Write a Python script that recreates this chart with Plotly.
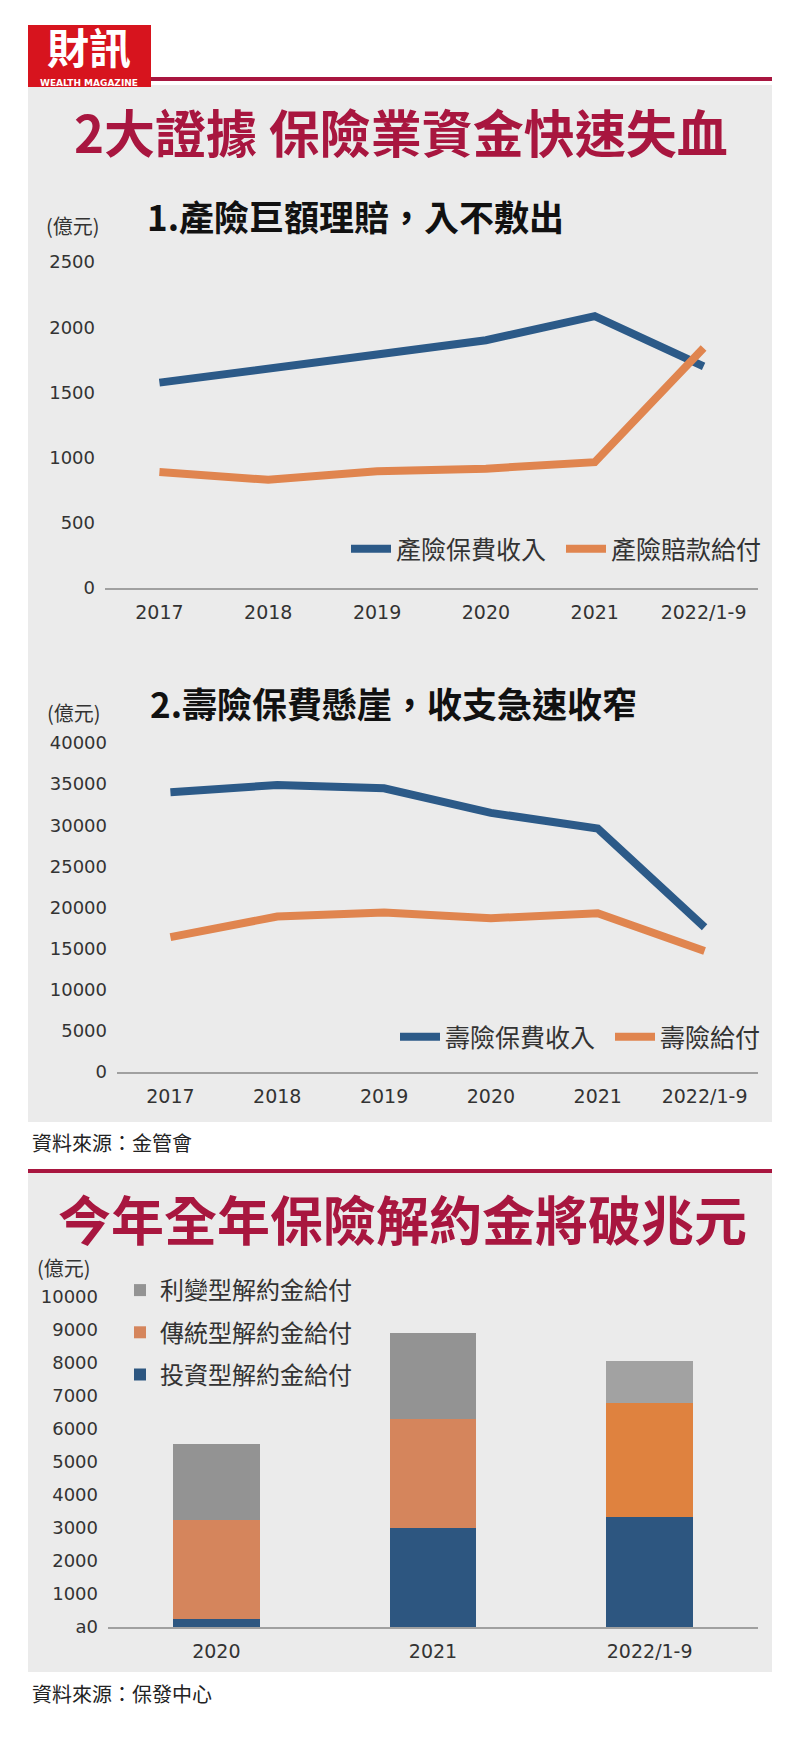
import plotly.graph_objects as go

W, H = 800, 1748
OFF = 8  # page body margin of the browser
CJK = "Noto Sans CJK TC"
NUM = "DejaVu Sans"

# ---------------- data ----------------
years6 = ["2017", "2018", "2019", "2020", "2021", "2022/1-9"]

pc_names = ["產險保費收入", "產險賠款給付"]
pc_premium = [1575, 1675, 1790, 1900, 2085, 1700]
pc_claims = [890, 830, 895, 915, 965, 1840]
pc_yticks = [0, 500, 1000, 1500, 2000, 2500]

life_names = ["壽險保費收入", "壽險給付"]
life_premium = [34000, 34900, 34500, 31500, 29600, 17600]
life_benefit = [16400, 18900, 19400, 18700, 19300, 14700]
life_yticks = [0, 5000, 10000, 15000, 20000, 25000, 30000, 35000, 40000]

years3 = ["2020", "2021", "2022/1-9"]
surr_names = ["投資型解約金給付", "傳統型解約金給付", "利變型解約金給付"]
surr_invest = [250, 3000, 3340]
surr_trad = [3000, 3300, 3440]
surr_ia = [2300, 2620, 1290]
surr_ytickvals = [0, 1000, 2000, 3000, 4000, 5000, 6000, 7000, 8000, 9000, 10000]
surr_yticktext = ["a0", "1000", "2000", "3000", "4000", "5000", "6000", "7000", "8000", "9000", "10000"]

titles = ["2大證據 保險業資金快速失血", "今年全年保險解約金將破兆元"]
subtitles = ["1.產險巨額理賠，入不敷出", "2.壽險保費懸崖，收支急速收窄"]
unit = "(億元)"
sources = ["資料來源：金管會", "資料來源：保發中心"]

# ---------------- style ----------------
BLUE = "#2c5a88"
ORANGE = "#e0854f"
BAR_BLUE = ["#2d5680", "#2d5680", "#2d5680"]
BAR_ORANGE = ["#d5855c", "#d5855c", "#df823f"]
BAR_GRAY = ["#939393", "#939393", "#a2a2a2"]
PANEL = "#ebebeb"
MAROON = "#a8163f"
AXIS = "#a0a0a0"
TXT = "#333333"


def px(x):
    return (x - OFF) / W


def py(y):
    return 1 - (y - OFF) / H


fig = go.Figure()

# chart 1 lines
fig.add_trace(go.Scatter(x=years6, y=pc_premium, name=pc_names[0], mode="lines",
                         line=dict(color=BLUE, width=8), xaxis="x", yaxis="y", legend="legend"))
fig.add_trace(go.Scatter(x=years6, y=pc_claims, name=pc_names[1], mode="lines",
                         line=dict(color=ORANGE, width=8), xaxis="x", yaxis="y", legend="legend"))
# chart 2 lines
fig.add_trace(go.Scatter(x=years6, y=life_premium, name=life_names[0], mode="lines",
                         line=dict(color=BLUE, width=8), xaxis="x2", yaxis="y2", legend="legend2"))
fig.add_trace(go.Scatter(x=years6, y=life_benefit, name=life_names[1], mode="lines",
                         line=dict(color=ORANGE, width=8), xaxis="x2", yaxis="y2", legend="legend2"))
# chart 3 stacked bars
for vals, nm, col, rank in [(surr_invest, surr_names[0], BAR_BLUE, 3),
                            (surr_trad, surr_names[1], BAR_ORANGE, 2),
                            (surr_ia, surr_names[2], BAR_GRAY, 1)]:
    fig.add_trace(go.Bar(x=years3, y=vals, name=nm, marker=dict(color=col, line=dict(width=0)),
                         width=0.4, xaxis="x3", yaxis="y3", legend="legend3", legendgroup=nm,
                         legendrank=rank))

ytickfont = dict(family=NUM, size=18, color=TXT)
xtickfont = dict(family=NUM, size=19, color=TXT)


def xax(domain, rng, anchor):
    return dict(domain=domain, range=rng, anchor=anchor, type="category", showline=True,
                linecolor=AXIS, linewidth=2, showgrid=False, zeroline=False, ticks="",
                tickfont=xtickfont, ticklabelstandoff=6, fixedrange=True)


def yax(domain, rng, anchor, **kw):
    d = dict(domain=domain, range=rng, anchor=anchor, showline=False, showgrid=False,
             zeroline=False, ticks="", tickfont=ytickfont, ticklabelstandoff=9,
             tickformat="d", fixedrange=True)
    d.update(kw)
    return d


def rect(x0, x1, y0, y1, color, layer="above"):
    return dict(type="rect", xref="paper", yref="paper", x0=px(x0), x1=px(x1), y0=py(y1),
                y1=py(y0), fillcolor=color, line=dict(width=0), layer=layer)


shapes = [
    rect(28, 772, 85, 1122, PANEL, "below"),
    rect(28, 772, 1173, 1672, PANEL, "below"),
    rect(150, 772, 77, 81, MAROON),
    rect(28, 772, 1169, 1173, MAROON),
    rect(28, 151, 25, 87, "#d7141e"),
]


def ann(text, x, y, size, color=TXT, xanchor="left", family=CJK, bold=False):
    t = "<b>%s</b>" % text if bold else text
    return dict(text=t, x=px(x), y=py(y), xref="paper", yref="paper", xanchor=xanchor,
                yanchor="middle", showarrow=False, font=dict(family=family, size=size, color=color))


annotations = [
    ann("財訊", 89, 46, 42, "white", "center", bold=True),
    ann("WEALTH MAGAZINE", 89, 82.5, 9, "white", "center", family="DejaVu Sans", bold=True),
    ann(titles[0], 401, 131, 51, MAROON, "center", bold=True),
    ann(subtitles[0], 145, 215, 35, "#111111", bold=True),
    ann(unit, 44, 226, 20),
    ann(subtitles[1], 148, 702, 35, "#111111", bold=True),
    ann(unit, 45, 712, 20),
    ann(sources[0], 30, 1142, 20, "#222222"),
    ann(titles[1], 402, 1218, 53, MAROON, "center", bold=True),
    ann(unit, 35, 1267, 20),
    ann(sources[1], 30, 1693, 20, "#222222"),
]

legfont = dict(family=CJK, size=25, color=TXT)

fig.update_layout(
    width=W, height=H, margin=dict(l=0, r=0, t=0, b=0, autoexpand=False),
    paper_bgcolor="white", plot_bgcolor=PANEL,
    barmode="stack", hovermode=False, showlegend=True,
    xaxis=xax([px(105), px(758)], [-0.5, 5.5], "y"),
    yaxis=yax([py(588), py(262)], [0, 2500], "x", tickvals=pc_yticks),
    xaxis2=xax([px(117), px(758)], [-0.5, 5.5], "y2"),
    yaxis2=yax([py(1072), py(743)], [0, 40000], "x2", tickvals=life_yticks),
    xaxis3=xax([px(108), px(758)], [-0.5, 2.5], "y3"),
    yaxis3=yax([py(1627), py(1297)], [0, 10000], "x3", tickvals=surr_ytickvals,
               ticktext=surr_yticktext),
    legend=dict(orientation="h", x=px(346), y=py(549), xanchor="left", yanchor="middle",
                font=legfont, bgcolor="rgba(0,0,0,0)", entrywidth=160, entrywidthmode="pixels",
                itemwidth=40),
    legend2=dict(orientation="h", x=px(395), y=py(1037), xanchor="left", yanchor="middle",
                 font=legfont, bgcolor="rgba(0,0,0,0)", entrywidth=160, entrywidthmode="pixels",
                 itemwidth=40),
    legend3=dict(orientation="v", x=px(120), y=py(1268), xanchor="left", yanchor="top",
                 font=dict(family=CJK, size=24, color=TXT), bgcolor="rgba(0,0,0,0)",
                 traceorder="grouped", tracegroupgap=8),
    shapes=shapes, annotations=annotations,
)

fig.write_html("out.html")
